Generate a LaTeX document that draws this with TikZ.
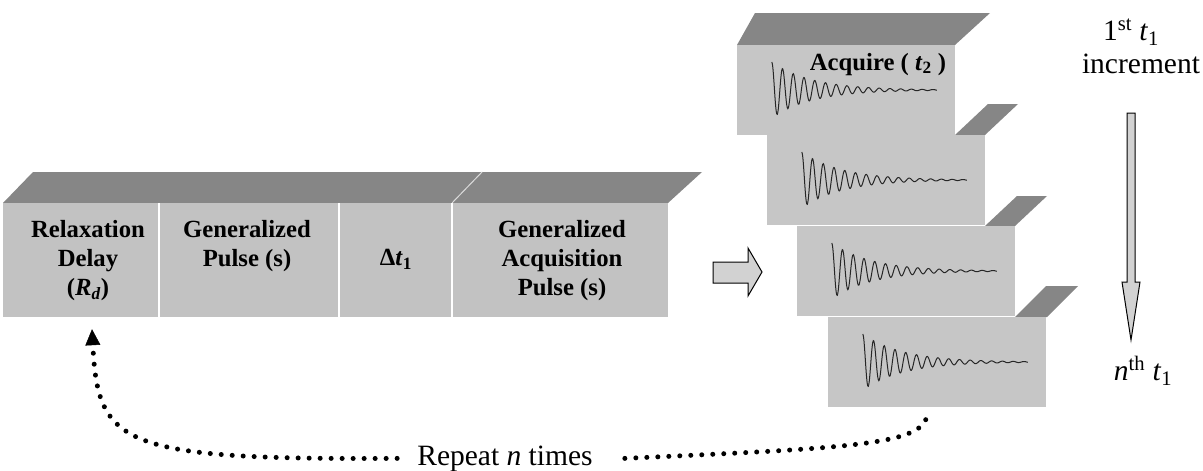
\documentclass[tikz,border=0pt]{standalone}
\usepackage{fontspec}
\setmainfont{Liberation Serif}
\usetikzlibrary{arrows.meta}
\definecolor{frontg}{HTML}{C2C2C2}
\definecolor{topg}{HTML}{868686}
\definecolor{stackg}{HTML}{C6C6C6}
\definecolor{arrg}{HTML}{D2D2D2}
\begin{document}
\begin{tikzpicture}[x=1pt,y=-1pt,
  lbl/.style={font=\fontsize{24.7}{29}\selectfont\bfseries, align=center, inner sep=0pt},
  txt/.style={font=\fontsize{29.5}{33}\selectfont, align=center, inner sep=0pt},
  cell/.style={fill=frontg, draw=none, inner sep=0pt, minimum height=114pt},
  card/.style={fill=stackg, draw=none, inner sep=0pt, minimum width=218pt, minimum height=90pt},
  topface/.style={fill=topg, draw=none},
  sep/.style={draw=white, line width=1.6pt},
  fid/.style={draw=black!85, line width=1pt},
  fatarrow/.style={fill=arrg, draw=black, line width=1pt, line join=miter},
  dots/.style={line width=5pt, line cap=round, dash pattern=on 0pt off 11pt},
]
\useasboundingbox (0,0) rectangle (1203,471);

% main sequence bar
\fill[topface] (3,203) -- (33,172) -- (702,172) -- (668,203) -- cycle;
\node[cell, minimum width=156pt] (c1) at (81,260) {};
\node[cell, minimum width=180pt] (c2) at (249,260) {};
\node[cell, minimum width=113pt] (c3) at (395.5,260) {};
\node[cell, minimum width=216pt] (c4) at (560,260) {};
\draw[sep] (c1.north east) -- (c1.south east);
\draw[sep] (c2.north east) -- (c2.south east);
\draw[sep] (c3.north east) -- (c3.south east);
\draw[white!70!topg, line width=1pt] (c3.north east) -- ++(30,-31);

\node[lbl] (t1) at (88,261) {Relaxation\\Delay\\(\textit{R}\textsubscript{\textit{d}})};
\node[lbl] (t2) at (247,246) {Generalized\\Pulse (s)};
\node[lbl] (t3) at (396,259) {Δ\textit{t}\textsubscript{1}};
\node[lbl] (t4) at (562,261) {Generalized\\Acquisition\\Pulse (s)};

% block arrow
\draw[fatarrow] (713,262) -- (748,262) -- (748,248) -- (762,272) -- (748,296) -- (748,283) -- (713,283) -- cycle;

% stack of acquisitions
\fill[topface] (1015,317) -- (1047,317) -- (1078,286) -- (1046,286) -- cycle;
\node[card] (b4) at (937,362) {};
\fill[topface] (985,226) -- (1015,226) -- (1047,196) -- (1017,196) -- cycle;
\node[card] (b3) at (906,271) {};
\fill[topface] (955,135) -- (985,135) -- (1018,104) -- (988,104) -- cycle;
\node[card] (b2) at (876,180) {};
\fill[topface] (737,45) -- (755,13) -- (990,13) -- (955,45) -- cycle;
\node[card] (b1) at (846,90) {};

\foreach \b in {b1,b2,b3,b4}
  \draw[fid, shift={(\b.west)}] plot[domain=0:165, samples=300, smooth]
    ({35+\x}, {-28*exp(-\x/40)*cos(33.5*\x)});

\node[lbl, anchor=base] (acq) at (878,70) {Acquire ( \textit{t}\textsubscript{2} )};

% t1 increment arrow and labels
\node[txt, anchor=base] (first) at (1131,40) {1\textsuperscript{st} \textit{t}\textsubscript{1}};
\node[txt, anchor=base] (incr) at (1141,73) {increment};
\node[txt, anchor=base] (nth) at (1143,380) {\textit{n}\textsuperscript{th} \textit{t}\textsubscript{1}};
\draw[fatarrow] (1127,113) -- (1135,113) -- (1135,282) -- (1140,282) -- (1131,340) -- (1122,282) -- (1127,282) -- cycle;

% repeat loop
\node[txt, anchor=base] (rep) at (505,465) {Repeat \textit{n} times};
\coordinate (tipL) at ([xshift=11pt,yshift=-12pt]c1.south);
\coordinate (endR) at ([xshift=-10pt,yshift=-7pt]b4.south);
\draw[dots, -{Triangle[length=16pt,width=15pt,line width=0.5pt]}]
  ([xshift=-20pt]rep.west) .. controls (120,460) and (98,445) .. (tipL);
\draw[dots] ([xshift=32pt]rep.east) .. controls (850,448) and (925,445) .. (endR);
\end{tikzpicture}
\end{document}
